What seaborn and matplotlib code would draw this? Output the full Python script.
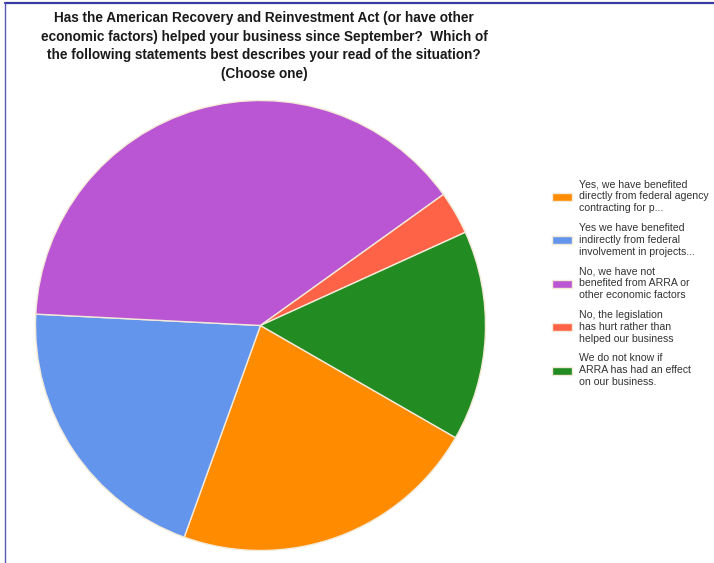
import matplotlib
matplotlib.use("Agg")
import matplotlib.pyplot as plt
import seaborn as sns
from matplotlib.lines import Line2D

sns.set_theme(style="white")
plt.rcParams['font.family'] = ['Liberation Sans', 'DejaVu Sans']

title = ("Has the American Recovery and Reinvestment Act (or have other\n"
         "economic factors) helped your business since September?  Which of\n"
         "the following statements best describes your read of the situation?\n"
         "(Choose one)")
categories = [
    "Yes, we have benefited\ndirectly from federal agency\ncontracting for p...",
    "Yes we have benefited\nindirectly from federal\ninvolvement in projects...",
    "No, we have not\nbenefited from ARRA or\nother economic factors",
    "No, the legislation\nhas hurt rather than\nhelped our business",
    "We do not know if\nARRA has had an effect\non our business.",
]
shares = [22.2, 20.3, 39.3, 3.1, 15.1]
colors = ["#FF8C00", "#6495ED", "#BA55D3", "#FF6347", "#228B22"]

W, H = 714, 563
fig = plt.figure(figsize=(W / 100, H / 100), dpi=100)
fig.patch.set_facecolor("white")

cx, cy, r = 260.5, 325.5, 225
ax = fig.add_axes([(cx - r) / W, (H - cy - r) / H, 2 * r / W, 2 * r / H])
palette = sns.color_palette(colors)
wedges, _ = ax.pie(shares, colors=palette, startangle=-29.9, counterclock=False,
                   wedgeprops=dict(edgecolor="#f3ead8", linewidth=1.0))
ax.set_xlim(-1, 1)
ax.set_ylim(-1, 1)
ax.set_aspect("equal")
ax.axis("off")

fig.text(264 / W, 1 - 11 / H, title, ha="center", va="top", fontsize=9.8,
         fontweight="bold", color="#1a1a1a", linespacing=1.42)

leg = fig.legend(wedges, categories, loc="upper left",
                 bbox_to_anchor=(548 / W, 1 - 175 / H),
                 frameon=False, fontsize=7.6, handlelength=1.9, handleheight=0.8,
                 handletextpad=0.6, labelspacing=0.9, borderaxespad=0)
for t in leg.get_texts():
    t.set_color("#333333")
    t.set_linespacing(1.25)

# page frame (top and left edges)
fig.add_artist(Line2D([5 / W, 1], [1 - 2.5 / H, 1 - 2.5 / H], transform=fig.transFigure,
                      color="#3a3aa0", linewidth=1.6))
fig.add_artist(Line2D([5 / W, 5 / W], [0, 1 - 2.5 / H], transform=fig.transFigure,
                      color="#5a5ab8", linewidth=1.0))

fig.savefig("out.png", dpi=100, facecolor="white")
